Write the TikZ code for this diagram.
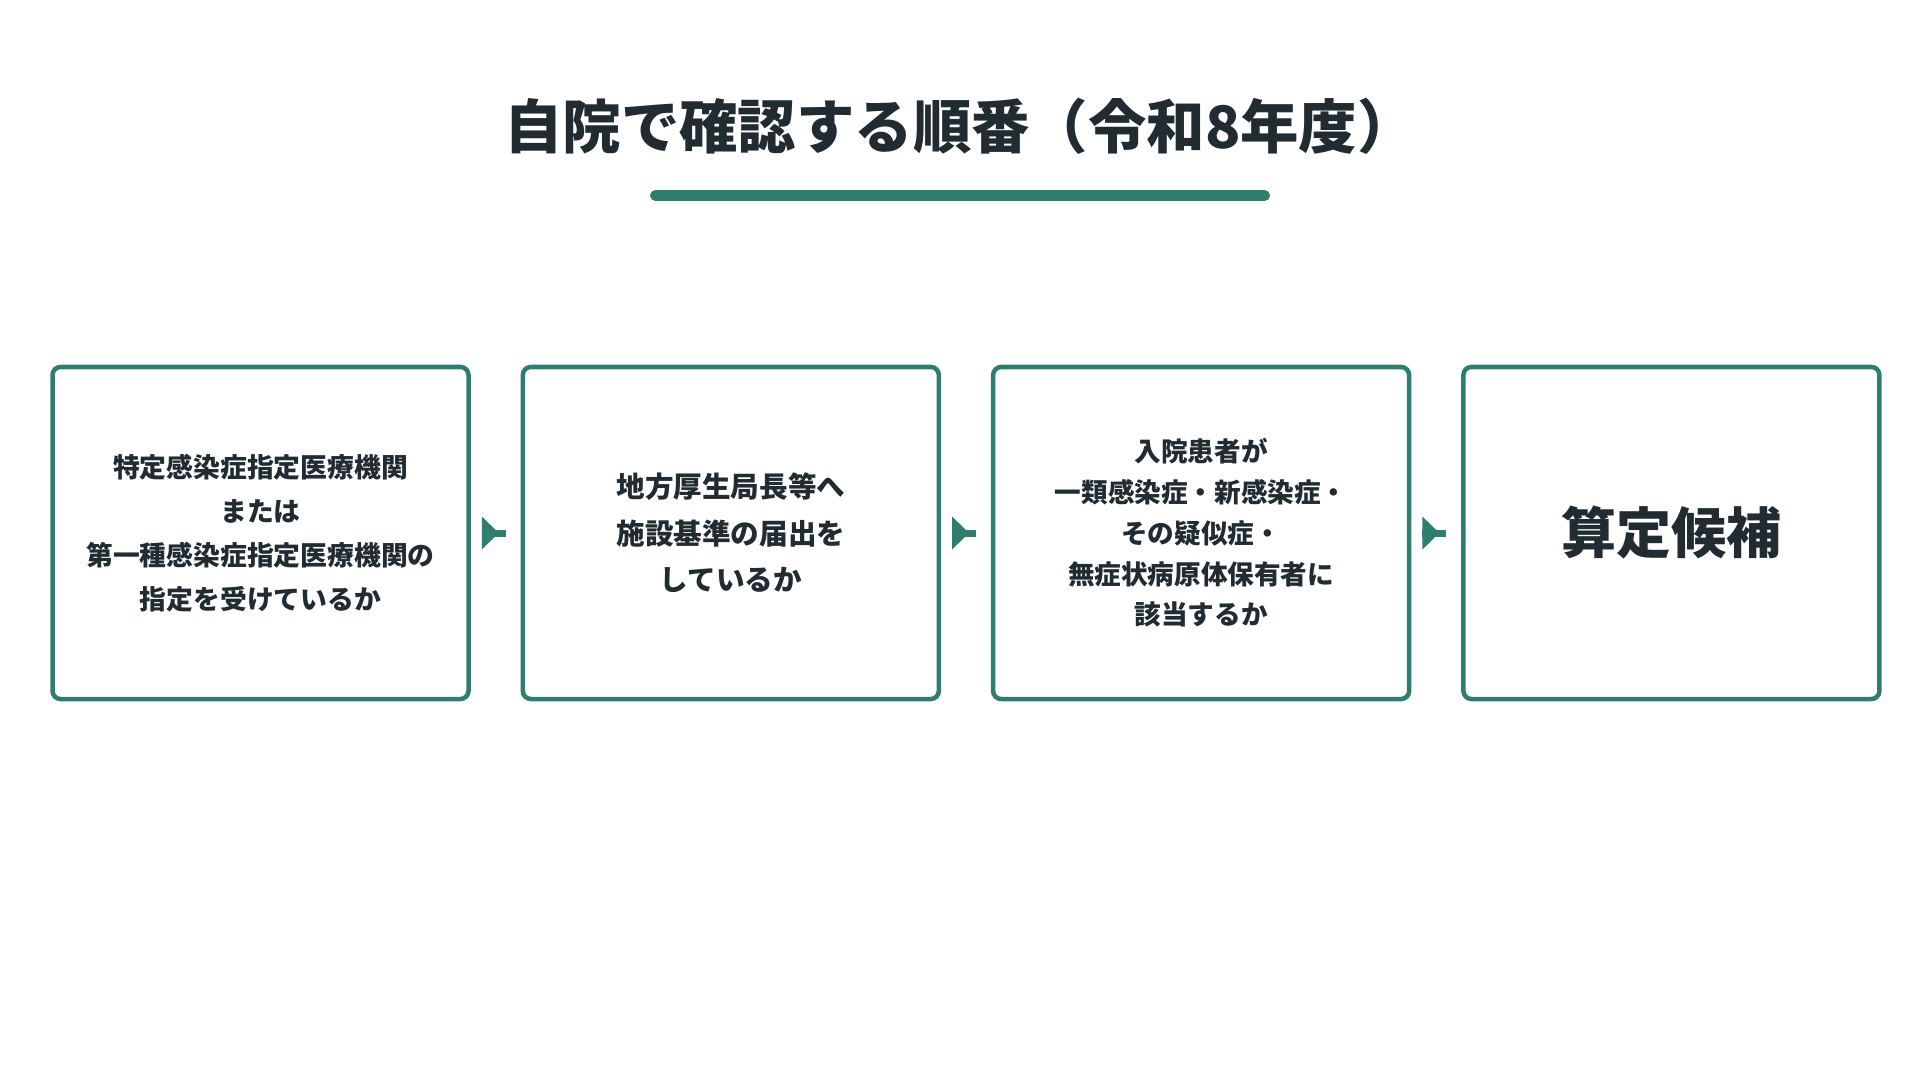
\documentclass[tikz,border=0pt]{standalone}
\usepackage{fontspec}
\setmainfont{Noto Sans CJK JP}
\usetikzlibrary{positioning,arrows.meta,decorations.markings}
\definecolor{step-green}{RGB}{46,125,110}
\definecolor{ink-dark}{RGB}{33,43,50}
\tikzset{
  checkbox/.style={draw=step-green, line width=2.25pt, rounded corners=4pt,
    minimum width=208pt, minimum height=166pt, align=center, text=ink-dark},
  flow/.style={draw=step-green, line width=3.5pt,
    decoration={markings, mark=at position 8.5pt with
      {\arrow{Triangle[length=8.5pt,width=16.5pt,line width=0pt]}}},
    postaction={decorate}},
}

\begin{document}
\begin{tikzpicture}[x=0.5pt, y=-0.5pt]
    \useasboundingbox (0,0) rectangle (1920,1080);

    % title and bar
    \node[text=ink-dark, font=\bfseries\fontsize{29.2}{35}\selectfont] (title) at (960,126) {自院で確認する順番（令和8年度）};
    \draw[step-green, line width=5.5pt, line cap=round] (655.5,195.5) -- (1264.5,195.5);

    % steps
    \node[checkbox, font=\bfseries\fontsize{13.4}{22}\selectfont] (b1) at (260.5,533)
        {特定感染症指定医療機関\\または\\第一種感染症指定医療機関の\\指定を受けているか};
    \node[checkbox, font=\bfseries\fontsize{14.3}{23.3}\selectfont, right=24.9pt of b1] (b2)
        {地方厚生局長等へ\\施設基準の届出を\\しているか};
    \node[checkbox, font=\bfseries\fontsize{13.3}{20.4}\selectfont, right=24.9pt of b2] (b3)
        {入院患者が\\一類感染症・新感染症・\\その疑似症・\\無症状病原体保有者に\\該当するか};
    \node[checkbox, font=\bfseries\fontsize{27.5}{33}\selectfont, right=24.9pt of b3] (b4)
        {算定候補};

    % arrows
    \draw[flow] ([xshift=5.5pt]b1.east) -- ([xshift=-7.5pt]b2.west);
    \draw[flow] ([xshift=5.5pt]b2.east) -- ([xshift=-7.5pt]b3.west);
    \draw[flow] ([xshift=5.5pt]b3.east) -- ([xshift=-7.5pt]b4.west);
\end{tikzpicture}
\end{document}
